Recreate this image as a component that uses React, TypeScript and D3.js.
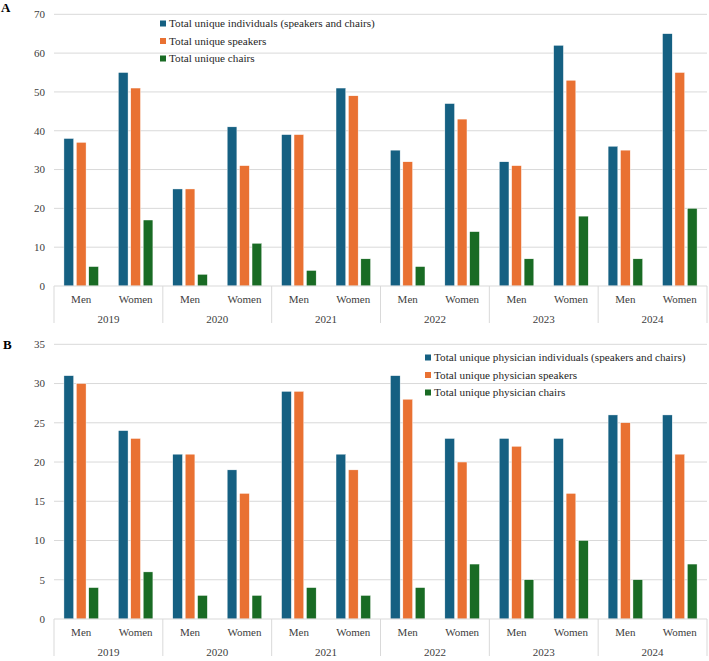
import React from "react";
import * as d3 from "d3";

// Categories: each year is split into men and women
const years = ["2019", "2020", "2021", "2022", "2023", "2024"];
const genders = ["Men", "Women"];

// Panel A: all unique participants (order: year × gender)
const aIndividuals = [38, 55, 25, 41, 39, 51, 35, 47, 32, 62, 36, 65];
const aSpeakers = [37, 51, 25, 31, 39, 49, 32, 43, 31, 53, 35, 55];
const aChairs = [5, 17, 3, 11, 4, 7, 5, 14, 7, 18, 7, 20];
const aLegend = [
  "Total unique individuals (speakers and chairs)",
  "Total unique speakers",
  "Total unique chairs",
];
const aTicks = [0, 10, 20, 30, 40, 50, 60, 70];

// Panel B: physicians only
const bIndividuals = [31, 24, 21, 19, 29, 21, 31, 23, 23, 23, 26, 26];
const bSpeakers = [30, 23, 21, 16, 29, 19, 28, 20, 22, 16, 25, 21];
const bChairs = [4, 6, 3, 3, 4, 3, 4, 7, 5, 10, 5, 7];
const bLegend = [
  "Total unique physician individuals (speakers and chairs)",
  "Total unique physician speakers",
  "Total unique physician chairs",
];
const bTicks = [0, 5, 10, 15, 20, 25, 30, 35];

const seriesColors = ["#156082", "#E97132", "#196B24"];
const FONT = '"Liberation Serif", "Times New Roman", "DejaVu Serif", serif';
const txt = { fontFamily: FONT };

const categories = years.flatMap((y) => genders.map((g) => `${y}|${g}`));

type PanelProps = {
  letter: string;
  letterX: number;
  letterY: number;
  series: number[][];
  legend: string[];
  ticks: number[];
  top: number;
  bottom: number;
  legendX: number;
  legendY: number;
};

const LEFT = 54;
const RIGHT = 707;

function Panel({
  letter,
  letterX,
  letterY,
  series,
  legend,
  ticks,
  top,
  bottom,
  legendX,
  legendY,
}: PanelProps) {
  const x = d3.scaleBand<string>().domain(categories).range([LEFT, RIGHT]).padding(0);
  const xs = d3
    .scaleBand<number>()
    .domain(d3.range(series.length))
    .range([0, x.bandwidth()])
    .paddingInner(0.22)
    .paddingOuter(0.8);
  const y = d3
    .scaleLinear()
    .domain([0, ticks[ticks.length - 1]])
    .range([bottom, top]);
  const yearW = x.bandwidth() * genders.length;

  return (
    <g>
      <text x={letterX} y={letterY} style={txt} fontSize={13} fontWeight="bold" fill="#000">
        {letter}
      </text>
      {ticks.map((t) => (
        <g key={t}>
          {t > 0 && (
            <line x1={LEFT} x2={RIGHT} y1={y(t)} y2={y(t)} stroke="#d9d9d9" strokeWidth={1} />
          )}
          <text
            x={LEFT - 9}
            y={y(t)}
            dy="0.35em"
            textAnchor="end"
            style={txt}
            fontSize={11}
            fill="#404040"
          >
            {t}
          </text>
        </g>
      ))}
      {series.map((vals, si) =>
        vals.map((v, ci) => (
          <rect
            key={`${si}-${ci}`}
            x={(x(categories[ci]) as number) + (xs(si) as number)}
            y={y(v)}
            width={xs.bandwidth()}
            height={bottom - y(v)}
            fill={seriesColors[si]}
            stroke="#ffffff"
            strokeWidth={0.4}
          />
        ))
      )}
      <line x1={LEFT} x2={RIGHT} y1={bottom} y2={bottom} stroke="#d9d9d9" strokeWidth={1} />
      {d3.range(years.length + 1).map((i) => (
        <line
          key={i}
          x1={LEFT + i * yearW}
          x2={LEFT + i * yearW}
          y1={bottom}
          y2={bottom + 37}
          stroke="#d9d9d9"
          strokeWidth={1}
        />
      ))}
      {categories.map((c) => (
        <text
          key={c}
          x={(x(c) as number) + x.bandwidth() / 2}
          y={bottom + 13}
          dy="0.35em"
          textAnchor="middle"
          style={txt}
          fontSize={11}
          fill="#404040"
        >
          {c.split("|")[1]}
        </text>
      ))}
      {years.map((yr, i) => (
        <text
          key={yr}
          x={LEFT + (i + 0.5) * yearW}
          y={bottom + 33}
          dy="0.35em"
          textAnchor="middle"
          style={txt}
          fontSize={11}
          fill="#404040"
        >
          {yr}
        </text>
      ))}
      {legend.map((label, i) => (
        <g key={label} transform={`translate(${legendX},${legendY + i * 17.5})`}>
          <rect x={0} y={-3} width={6} height={6} fill={seriesColors[i]} />
          <text x={9} y={0} dy="0.35em" style={txt} fontSize={11.2} fill="#262626">
            {label}
          </text>
        </g>
      ))}
    </g>
  );
}

export default function App() {
  return (
    <svg
      width={709}
      height={661}
      style={{ position: "absolute", left: 0, top: 0, background: "#fff" }}
    >
      <Panel
        letter="A"
        letterX={1}
        letterY={12}
        series={[aIndividuals, aSpeakers, aChairs]}
        legend={aLegend}
        ticks={aTicks}
        top={14.3}
        bottom={286}
        legendX={160}
        legendY={23.5}
      />
      <Panel
        letter="B"
        letterX={3}
        letterY={349}
        series={[bIndividuals, bSpeakers, bChairs]}
        legend={bLegend}
        ticks={bTicks}
        top={344.3}
        bottom={619}
        legendX={425}
        legendY={357.5}
      />
    </svg>
  );
}
